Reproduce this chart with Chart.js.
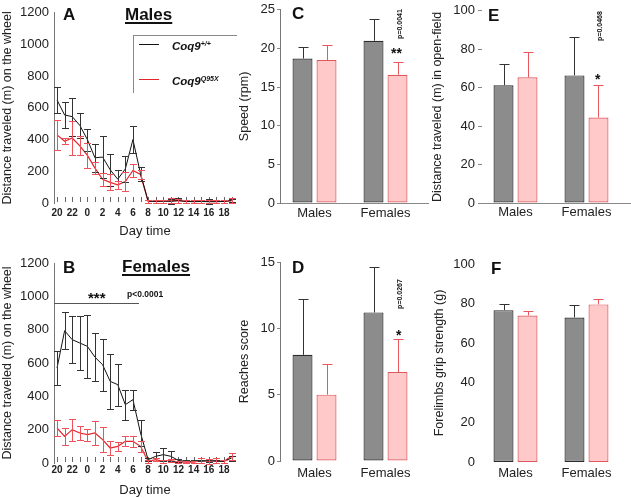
<!DOCTYPE html>
<html>
<head>
<meta charset="utf-8">
<script src="https://cdn.jsdelivr.net/npm/chart.js@4.4.1/dist/chart.umd.min.js"></script>
<style>
  body { margin: 0; background: #fff; }
  #fig { position: relative; width: 631px; height: 498px; overflow: hidden;
         font-family: "Liberation Sans", Arial, sans-serif; color: #111; }
  #fig canvas { position: absolute; }
  .t { position: absolute; white-space: nowrap; line-height: 1; font-weight: bold; }
  .letter { font-size: 17px; }
  .ttl { font-size: 17px; text-decoration: underline; text-decoration-thickness: 1.5px; text-underline-offset: 2px; }
  .leg { font-size: 11.5px; font-style: italic; }
  .leg sup { font-size: 7px; vertical-align: 4px; line-height: 0; }
  .star { font-size: 14px; }
  .pv { font-size: 7px; transform: translate(-50%, -50%) rotate(-90deg); }
  .ln { position: absolute; }
</style>
</head>
<body>
<div id="fig">
  <canvas id="chartA" width="240" height="245" style="left:0;top:0"></canvas>
  <canvas id="chartB" width="240" height="253" style="left:0;top:245px"></canvas>
  <canvas id="chartC" width="200" height="245" style="left:230px;top:0"></canvas>
  <canvas id="chartD" width="200" height="253" style="left:230px;top:245px"></canvas>
  <canvas id="chartE" width="201" height="245" style="left:430px;top:0"></canvas>
  <canvas id="chartF" width="201" height="253" style="left:430px;top:245px"></canvas>

  <!-- panel A -->
  <div class="t letter" style="left:63px;top:6px">A</div>
  <div class="t ttl" style="left:125px;top:6px">Males</div>
  <div class="ln" style="left:133px;top:35px;width:104px;border-top:1px solid #888"></div>
  <div class="ln" style="left:133px;top:35px;height:58px;border-left:1px solid #888"></div>
  <div class="ln" style="left:139px;top:44px;width:20px;border-top:1px solid #111"></div>
  <div class="ln" style="left:139px;top:79px;width:20px;border-top:1px solid #e3262b"></div>
  <div class="t leg" style="left:172px;top:41px">Coq9<sup>+/+</sup></div>
  <div class="t leg" style="left:172px;top:76px">Coq9<sup>Q95X</sup></div>

  <!-- panel B -->
  <div class="t letter" style="left:63px;top:259px">B</div>
  <div class="t ttl" style="left:122px;top:258px">Females</div>
  <div class="ln" style="left:54px;top:303px;width:85px;border-top:1px solid #555"></div>
  <div class="t" style="left:88px;top:290px;font-size:15px">***</div>
  <div class="t" style="left:127px;top:290px;font-size:8.5px">p&lt;0.0001</div>

  <!-- panel C -->
  <div class="t letter" style="left:292px;top:5px">C</div>
  <div class="t star" style="left:391px;top:46px">**</div>
  <div class="t pv" style="left:399px;top:24px">p=0.0041</div>

  <!-- panel D -->
  <div class="t letter" style="left:292px;top:259px">D</div>
  <div class="t star" style="left:396px;top:328px">*</div>
  <div class="t pv" style="left:399px;top:294px">p=0.0267</div>

  <!-- panel E -->
  <div class="t letter" style="left:488px;top:7px">E</div>
  <div class="t star" style="left:595px;top:72px">*</div>
  <div class="t pv" style="left:599px;top:26px">p=0.0468</div>

  <!-- panel F -->
  <div class="t letter" style="left:491px;top:260px">F</div>
</div>

<script>
// hours of the wheel recording, 20:00 to 19:00 next day
const hours = [20, 21, 22, 23, 0, 1, 2, 3, 4, 5, 6, 7, 8, 9, 10, 11, 12, 13, 14, 15, 16, 17, 18, 19];

// A - males, distance on wheel (m)
const maleWT      = [650, 555, 545, 490, 400, 285, 290, 210, 150, 215, 400, 185, 12, 10, 12, 10, 15, 10, 8, 10, 8, 8, 10, 15];
const maleWTErr   = [80, 80, 120, 80, 70, 90, 130, 100, 60, 80, 85, 45, 10, 10, 10, 15, 15, 10, 10, 10, 15, 10, 10, 10];
const maleMut     = [430, 390, 410, 360, 300, 220, 150, 130, 115, 135, 205, 180, 10, 10, 10, 15, 15, 10, 10, 10, 10, 10, 10, 15];
const maleMutErr  = [95, 20, 110, 60, 80, 40, 40, 50, 25, 60, 40, 30, 8, 8, 8, 15, 12, 8, 8, 8, 10, 8, 10, 18];

// B - females, distance on wheel (m)
const femaleWT     = [570, 794, 740, 720, 700, 635, 590, 490, 470, 350, 380, 180, 20, 40, 50, 40, 15, 10, 10, 10, 15, 10, 10, 30];
const femaleWTErr  = [100, 110, 140, 160, 190, 145, 155, 165, 125, 90, 60, 80, 10, 25, 40, 30, 10, 8, 8, 8, 10, 8, 8, 15];
const femaleMut    = [210, 160, 200, 180, 170, 180, 140, 90, 100, 130, 130, 100, 10, 20, 10, 15, 5, 5, 5, 15, 10, 15, 10, 40];
const femaleMutErr = [50, 50, 65, 40, 35, 70, 75, 40, 25, 30, 35, 35, 8, 10, 8, 10, 5, 5, 5, 15, 15, 15, 8, 20];

// bar panels
const groups = ['Males', 'Females'];
const speedWT = [18.7, 21.0], speedWTErr = [1.5, 2.8];
const speedMut = [18.5, 16.6], speedMutErr = [2.0, 1.7];
const reachWT = [8.0, 11.2], reachWTErr = [4.2, 3.4];
const reachMut = [5.0, 6.7], reachMutErr = [2.3, 2.5];
const openWT = [61.3, 66.4], openWTErr = [11.2, 20.1];
const openMut = [65.4, 44.5], openMutErr = [13.1, 16.9];
const gripWT = [76.7, 73.0], gripWTErr = [3.0, 6.1];
const gripMut = [74.0, 79.6], gripMutErr = [2.4, 2.6];

const FONT = '"Liberation Sans", Arial, sans-serif';
Chart.defaults.font.family = FONT;
Chart.defaults.color = '#222';

const toXY = arr => arr.map((v, i) => ({ x: i, y: v }));

// error bars drawn from the y scale
const errorBars = {
  id: 'errorBars',
  afterDatasetsDraw(chart) {
    const ctx = chart.ctx, y = chart.scales.y;
    chart.data.datasets.forEach((ds, i) => {
      if (!ds.errors) return;
      const meta = chart.getDatasetMeta(i);
      ctx.save();
      ctx.strokeStyle = ds.errColor;
      ctx.lineWidth = 1;
      meta.data.forEach((el, j) => {
        const v = ds.data[j].y, e = ds.errors[j];
        const x = Math.round(el.x) + 0.5;
        const top = Math.round(y.getPixelForValue(v + e)) + 0.5;
        const bot = ds.upOnly ? el.y : Math.round(y.getPixelForValue(v - e)) + 0.5;
        const c = ds.cap / 2;
        ctx.beginPath();
        ctx.moveTo(x, top); ctx.lineTo(x, bot);
        ctx.moveTo(x - c, top); ctx.lineTo(x + c, top);
        if (!ds.upOnly) { ctx.moveTo(x - c, bot); ctx.lineTo(x + c, bot); }
        ctx.stroke();
      });
      ctx.restore();
    });
  }
};

// small hourly tick marks sitting on the baseline
const hourTicks = {
  id: 'hourTicks',
  beforeDatasetsDraw(chart) {
    const { ctx, scales: { x, y } } = chart;
    const base = y.getPixelForValue(0);
    ctx.save();
    ctx.strokeStyle = '#666';
    ctx.lineWidth = 1;
    hours.forEach((h, i) => {
      const px = Math.round(x.getPixelForValue(i)) + 0.5;
      ctx.beginPath();
      ctx.moveTo(px, base - 6);
      ctx.lineTo(px, base - 1);
      ctx.stroke();
    });
    ctx.restore();
  }
};

function wheelChart(id, wt, wtErr, mut, mutErr, geo) {
  return new Chart(document.getElementById(id), {
    type: 'line',
    data: {
      datasets: [
        { data: toXY(wt), errors: wtErr, errColor: '#333', cap: 7,
          borderColor: '#111', borderWidth: 1, pointRadius: 0, tension: 0 },
        { data: toXY(mut), errors: mutErr, errColor: '#f0505a', cap: 7,
          borderColor: '#e3262b', borderWidth: 1.2, pointRadius: 0, tension: 0 }
      ]
    },
    options: {
      responsive: false,
      animation: false,
      layout: { padding: { top: geo.top, right: 4, left: 0, bottom: 0 } },
      plugins: { legend: { display: false }, tooltip: { enabled: false } },
      scales: {
        x: {
          type: 'linear', min: -0.4, max: 23.58,
          afterBuildTicks: s => { s.ticks = hours.map((h, i) => ({ value: i })).filter(t => t.value % 2 === 0); },
          afterFit: s => { s.height = geo.xh; },
          ticks: { callback: v => String(hours[v]), font: { size: 10, weight: 'bold' }, color: '#222',
                   padding: geo.xpad, maxRotation: 0, autoSkip: false },
          grid: { display: false, drawTicks: false },
          border: { display: false },
          title: { display: true, text: 'Day time', font: { size: 13 }, color: '#222', padding: { top: 0, bottom: geo.tpad } }
        },
        y: {
          min: 0, max: 1200,
          afterFit: s => { s.width = 54; },
          ticks: { stepSize: 200, callback: v => String(v), font: { size: 13 }, color: '#222', padding: 5 },
          grid: { display: false, drawTicks: false },
          border: { display: true, color: '#777' },
          title: { display: true, text: 'Distance traveled (m) on the wheel', font: { size: 12.5 }, color: '#222', padding: 0 }
        }
      }
    },
    plugins: [hourTicks, errorBars]
  });
}

function barChart(id, yTitle, yMax, yStep, wt, wtErr, mut, mutErr, geo) {
  return new Chart(document.getElementById(id), {
    type: 'bar',
    data: {
      datasets: [
        { data: toXY(wt), errors: wtErr, upOnly: true, errColor: '#333', cap: 10,
          backgroundColor: '#8c8c8c', borderColor: '#2b2b2b', borderWidth: 1.2, borderSkipped: false },
        { data: toXY(mut), errors: mutErr, upOnly: true, errColor: '#e8575c', cap: 10,
          backgroundColor: '#ffc9c9', borderColor: '#e0585c', borderWidth: 1.2, borderSkipped: false }
      ]
    },
    options: {
      responsive: false,
      animation: false,
      layout: { padding: { top: geo.top, right: geo.right, left: 0, bottom: 0 } },
      datasets: { bar: { categoryPercentage: 0.676, barPercentage: 0.833 } },
      plugins: { legend: { display: false }, tooltip: { enabled: false } },
      scales: {
        x: {
          type: 'linear', offset: false, min: geo.xmin, max: geo.xmax,
          afterBuildTicks: s => { s.ticks = groups.map((g, i) => ({ value: i })); },
          afterFit: s => { s.height = geo.xh; },
          ticks: { callback: v => groups[v], font: { size: 13 }, color: '#222', padding: geo.xpad, maxRotation: 0 },
          grid: { display: false, drawTicks: false },
          border: { display: geo.base, color: '#888' }
        },
        y: {
          min: 0, max: yMax,
          afterFit: s => { s.width = geo.yw; },
          ticks: { stepSize: yStep, callback: v => String(v), font: { size: 13 }, color: '#222', padding: geo.ypad },
          grid: { display: geo.tick > 0, drawOnChartArea: false, drawTicks: geo.tick > 0, tickLength: geo.tick, color: '#888' },
          border: { display: geo.axis, color: '#777' },
          title: { display: true, text: yTitle, font: { size: 12.5 }, color: '#222', padding: { top: geo.tp, bottom: 0 } }
        }
      }
    },
    plugins: [errorBars]
  });
}

wheelChart('chartA', maleWT, maleWTErr, maleMut, maleMutErr, { top: 7, xh: 42, xpad: 4, tpad: 6 });
wheelChart('chartB', femaleWT, femaleWTErr, femaleMut, femaleMutErr, { top: 18, xh: 35, xpad: 1, tpad: 0 });

barChart('chartC', 'Speed (rpm)', 25, 5, speedWT, speedWTErr, speedMut, speedMutErr,
  { top: 7, right: 2, xh: 42, xpad: 3, yw: 50, ypad: 2, tick: 3, axis: true, base: true, tp: 7, xmin: -0.486, xmax: 1.5985 });
barChart('chartD', 'Reaches score', 15, 5, reachWT, reachWTErr, reachMut, reachMutErr,
  { top: 17, right: 2, xh: 37, xpad: 5, yw: 50, ypad: 2, tick: 3, axis: true, base: false, tp: 7, xmin: -0.486, xmax: 1.5985 });
barChart('chartE', 'Distance traveled (m) in open-field', 100, 20, openWT, openWTErr, openMut, openMutErr,
  { top: 7, right: 0, xh: 42, xpad: 2, yw: 52, ypad: 3, tick: 4, axis: false, base: true, tp: 0, xmin: -0.472, xmax: 1.627 });
barChart('chartF', 'Forelimbs grip strength (g)', 100, 20, gripWT, gripWTErr, gripMut, gripMutErr,
  { top: 19, right: 0, xh: 36, xpad: 4, yw: 52, ypad: 7, tick: 0, axis: false, base: false, tp: 2, xmin: -0.472, xmax: 1.627 });
</script>
</body>
</html>
